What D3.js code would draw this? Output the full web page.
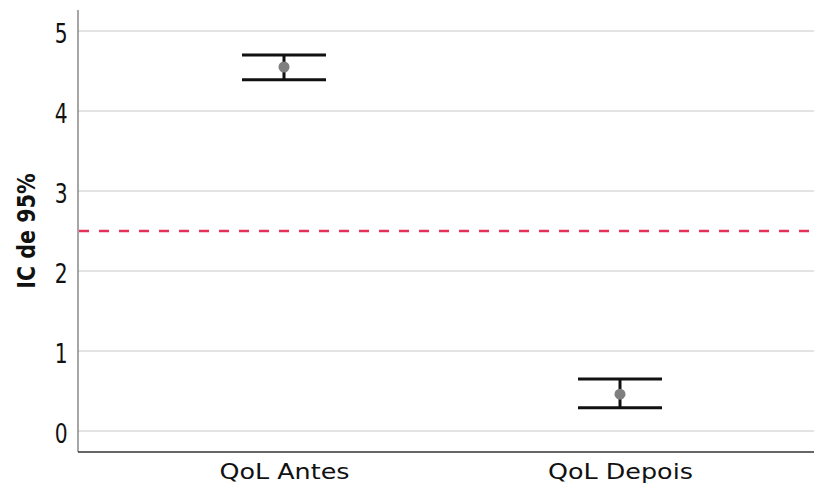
<!DOCTYPE html>
<html><head><meta charset="utf-8">
<script src="https://cdn.jsdelivr.net/npm/d3@7"></script>
<style>body{margin:0;background:#fff}svg{display:block}text{font-family:"DejaVu Sans",sans-serif}</style>
</head><body>
<svg id="c" width="814" height="488"></svg>
<script>
const categories = ["QoL Antes", "QoL Depois"];
const means = [4.55, 0.46];
const lower = [4.39, 0.29];
const upper = [4.70, 0.65];
const yTicks = [0, 1, 2, 3, 4, 5];
const refLine = 2.5;
const yLabel = "IC de 95%";

(function () {
const svg = d3.select("#c");
const mL = 78, mR = 814, mT = 10, mB = 452;
const y = d3.scaleLinear().domain([-0.2625, 5.2625]).range([mB, mT]);
const x = d3.scalePoint().domain(categories).range([284, 620]);

// gridlines
svg.append("g").selectAll("line").data(yTicks).join("line")
  .attr("x1", mL).attr("x2", mR)
  .attr("y1", d => y(d)).attr("y2", d => y(d))
  .attr("stroke", "#c8c8c8").attr("stroke-width", 1.2);

// axes
const ya = svg.append("g").attr("transform", `translate(${mL},0)`)
  .call(d3.axisLeft(y).tickValues(yTicks).tickFormat(d3.format("d")).tickSize(0).tickPadding(14));
ya.select(".domain").attr("d", `M0,${mT}V${mB}`).attr("stroke", "#777").attr("stroke-width", 1.3);
ya.selectAll("text").attr("font-size", 27).attr("fill", "#111").attr("dy", "0.44em")
  .attr("transform", "scale(0.75,1)");

const xa = svg.append("g").attr("transform", `translate(0,${mB})`)
  .call(d3.axisBottom(x).tickSize(0).tickPadding(12));
xa.select(".domain").attr("d", `M${mL},0H${mR}`).attr("stroke", "#333").attr("stroke-width", 1.3);
xa.selectAll("text").attr("font-size", 20.5).attr("fill", "#111").attr("dy", "0.71em")
  .attr("transform", "scale(1.24,1)");

// reference line
svg.append("line").attr("x1", mL + 1).attr("x2", mR)
  .attr("y1", y(refLine)).attr("y2", y(refLine))
  .attr("stroke", "#e5305a").attr("stroke-width", 2.4).attr("stroke-dasharray", "10,10");

// error bars
const capW = 42;
const g = svg.append("g");
categories.forEach((c, i) => {
  const cx = x(c);
  g.append("line").attr("x1", cx).attr("x2", cx).attr("y1", y(upper[i])).attr("y2", y(lower[i]))
    .attr("stroke", "#111").attr("stroke-width", 3);
  [upper[i], lower[i]].forEach(v => {
    g.append("line").attr("x1", cx - capW).attr("x2", cx + capW).attr("y1", y(v)).attr("y2", y(v))
      .attr("stroke", "#111").attr("stroke-width", 3);
  });
  g.append("circle").attr("cx", cx).attr("cy", y(means[i])).attr("r", 5.5).attr("fill", "#7f7f7f");
});

// y label
svg.append("text").attr("transform", `translate(35,${y(2.5)}) rotate(-90) scale(0.86,1)`)
  .attr("text-anchor", "middle").attr("font-size", 24).attr("font-weight", "bold").attr("fill", "#111")
  .text(yLabel);
})();
</script>
</body></html>
